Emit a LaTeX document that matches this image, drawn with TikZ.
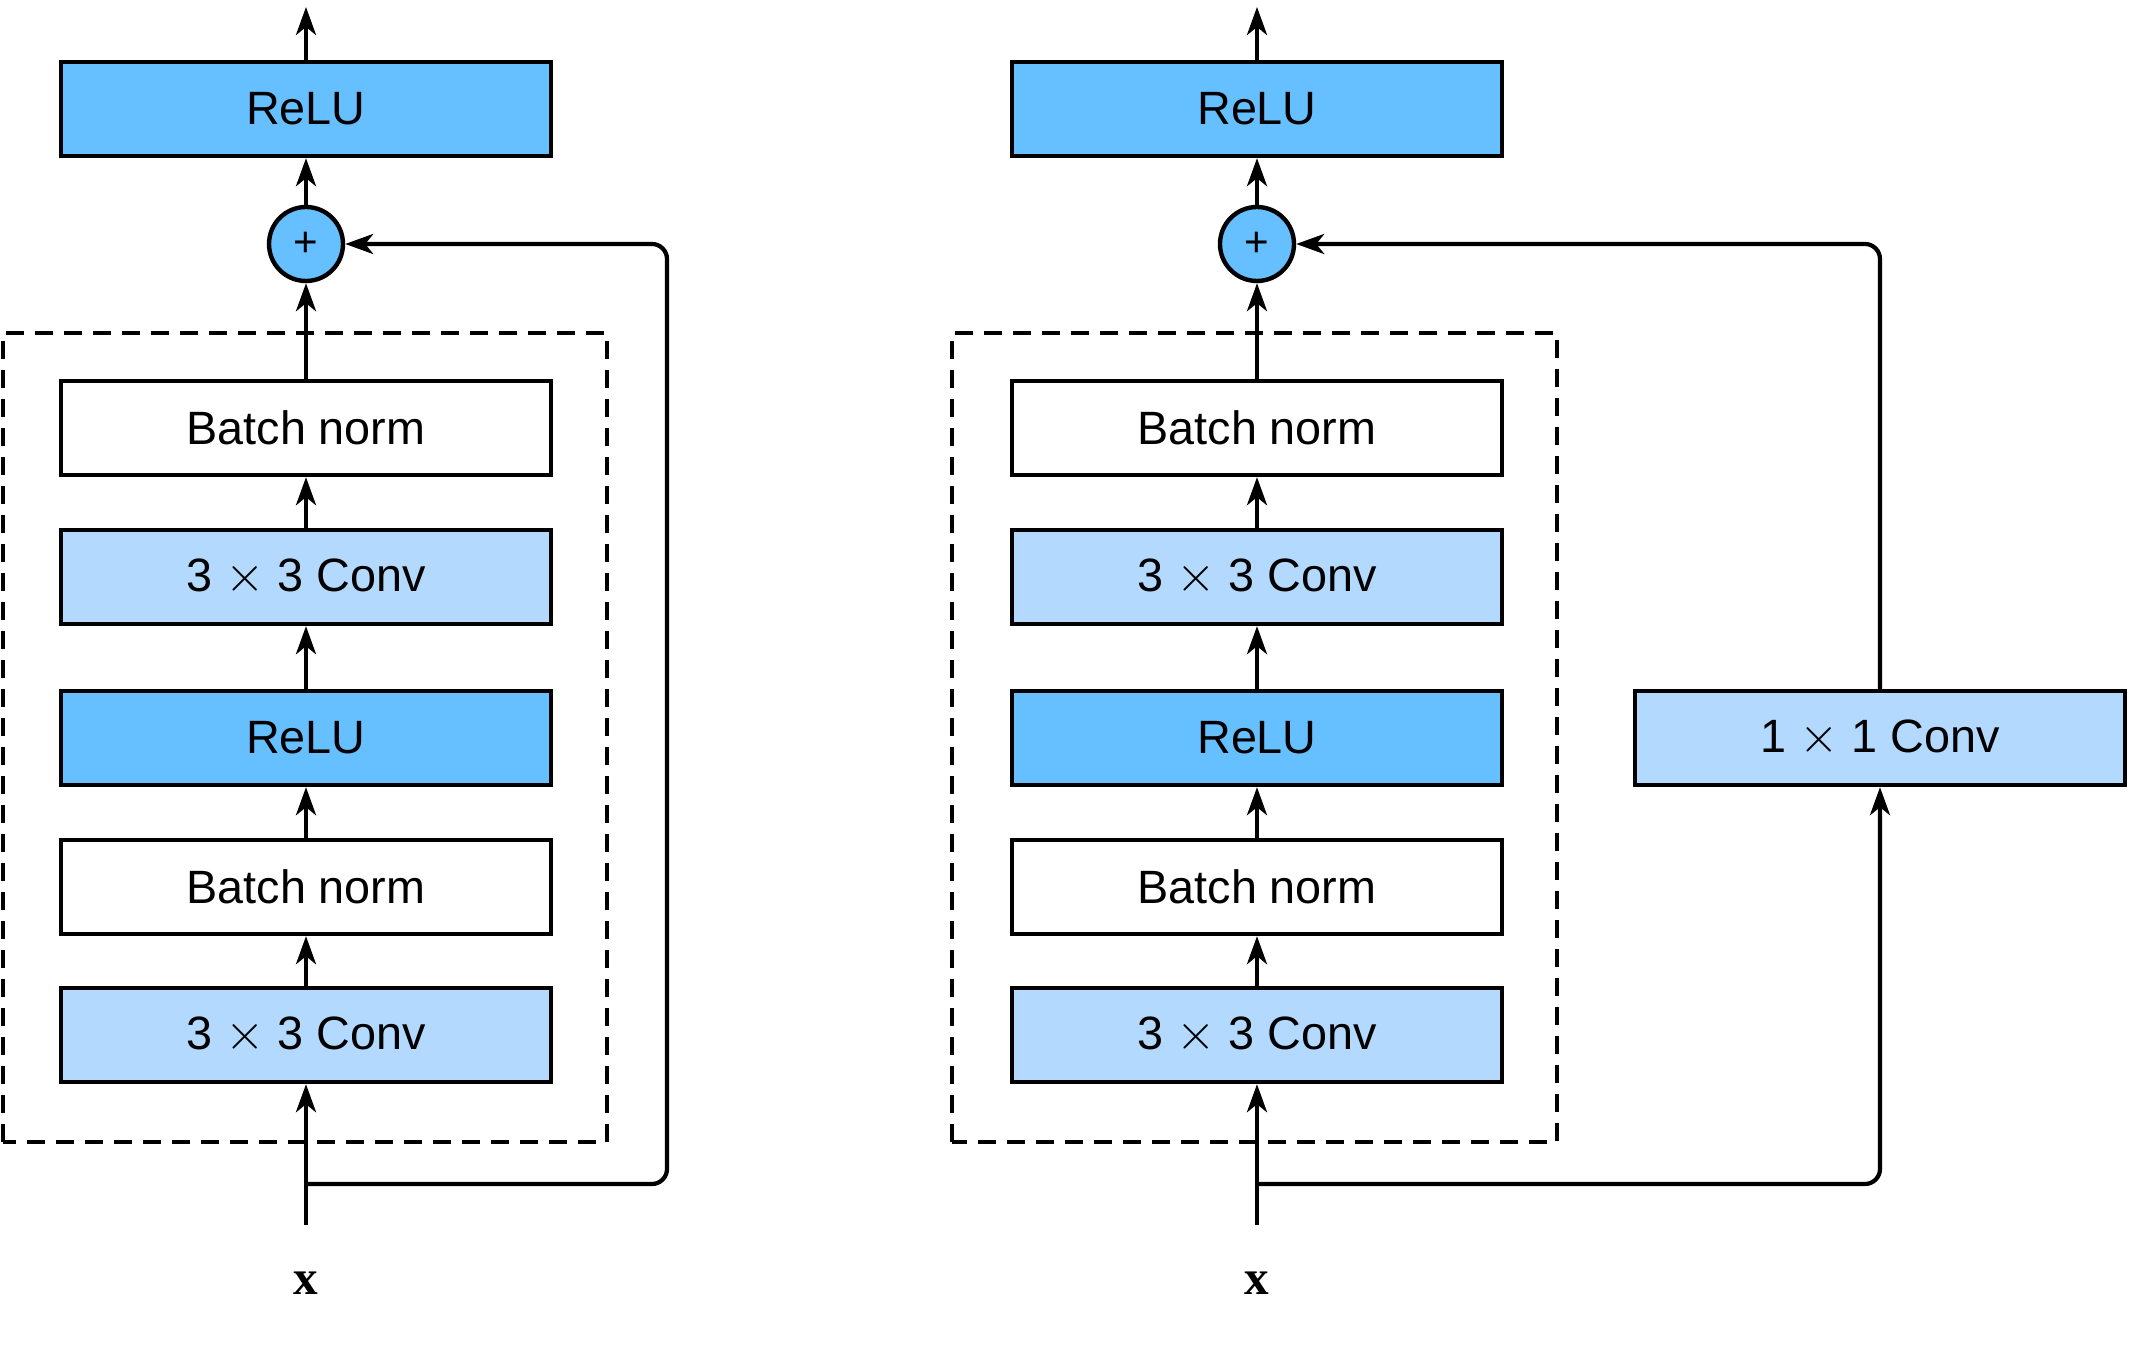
\documentclass[tikz,border=0pt]{standalone}
\usepackage{fontspec}
\setmainfont{Liberation Sans}
\newfontfamily\xfont{Liberation Serif}
\usetikzlibrary{arrows.meta,positioning}
\definecolor{relublue}{RGB}{102,191,255}
\definecolor{convblue}{RGB}{179,217,255}

\begin{document}
\begin{tikzpicture}[
    layer/.style={draw, line width=1.25pt, minimum width=4.9cm, minimum height=0.94cm, inner sep=0pt, font=\fontsize{13.3}{16}\selectfont},
    relu/.style={layer, fill=relublue},
    conv/.style={layer, fill=convblue},
    norm/.style={layer, fill=white},
    addnode/.style={circle, draw, line width=1.25pt, fill=relublue, minimum size=0.74cm, inner sep=0pt, font=\fontsize{12}{12}\selectfont},
    flow/.style={-{Stealth[length=2.8mm, width=2mm, inset=0.8mm]}, line width=1.2pt},
    skip/.style={flow, rounded corners=0.15cm},
    block/.style={draw, line width=1.2pt, dash pattern=on 1.8mm off 1.1mm},
    inlabel/.style={font=\xfont\bfseries\fontsize{14}{15}\selectfont}
]
    \useasboundingbox (0,0) rectangle (21.29,13.5);

    % Dashed blocks round the two inner stacks
    \draw[block] (0.03,2.08) rectangle (6.07,10.17);
    \draw[block] (9.52,2.08) rectangle (15.57,10.17);

    % Left residual block
    \node[conv] (lconva) at (3.06,3.15) {3 $\times$ 3 Conv};
    \node[norm] (lbna) at (3.06,4.63) {Batch norm};
    \node[relu] (lrelua) at (3.06,6.12) {ReLU};
    \node[conv] (lconvb) at (3.06,7.73) {3 $\times$ 3 Conv};
    \node[norm] (lbnb) at (3.06,9.22) {Batch norm};
    \node[addnode] (ladd) at (3.06,11.06) {+};
    \node[relu] (lrelub) at (3.06,12.41) {ReLU};
    \node[inlabel] (lx) at (3.06,0.67) {x};
    \coordinate (lin) at (3.06,1.25);
    \coordinate (lfork) at (3.06,1.66);
    \coordinate (lcorner) at (6.67,11.06);
    \coordinate (lout) at (3.06,13.43);

    \draw[flow] (lin) -- (lconva);
    \draw[flow] (lconva) -- (lbna);
    \draw[flow] (lbna) -- (lrelua);
    \draw[flow] (lrelua) -- (lconvb);
    \draw[flow] (lconvb) -- (lbnb);
    \draw[flow] (lbnb) -- (ladd);
    \draw[flow] (ladd) -- (lrelub);
    \draw[flow] (lrelub) -- (lout);
    \draw[skip] (lfork) -| (lcorner) -- (ladd);

    % Right residual block with 1x1 conv on the shortcut
    \node[conv] (rconva) at (12.57,3.15) {3 $\times$ 3 Conv};
    \node[norm] (rbna) at (12.57,4.63) {Batch norm};
    \node[relu] (rrelua) at (12.57,6.12) {ReLU};
    \node[conv] (rconvb) at (12.57,7.73) {3 $\times$ 3 Conv};
    \node[norm] (rbnb) at (12.57,9.22) {Batch norm};
    \node[addnode] (radd) at (12.57,11.06) {+};
    \node[relu] (rrelub) at (12.57,12.41) {ReLU};
    \node[conv] (rshort) at (18.80,6.12) {1 $\times$ 1 Conv};
    \node[inlabel] (rx) at (12.57,0.67) {x};
    \coordinate (rin) at (12.57,1.25);
    \coordinate (rfork) at (12.57,1.66);
    \coordinate (rout) at (12.57,13.43);

    \draw[flow] (rin) -- (rconva);
    \draw[flow] (rconva) -- (rbna);
    \draw[flow] (rbna) -- (rrelua);
    \draw[flow] (rrelua) -- (rconvb);
    \draw[flow] (rconvb) -- (rbnb);
    \draw[flow] (rbnb) -- (radd);
    \draw[flow] (radd) -- (rrelub);
    \draw[flow] (rrelub) -- (rout);
    \draw[skip] (rfork) -| (rshort);
    \draw[skip] (rshort) |- (radd);

\end{tikzpicture}
\end{document}
